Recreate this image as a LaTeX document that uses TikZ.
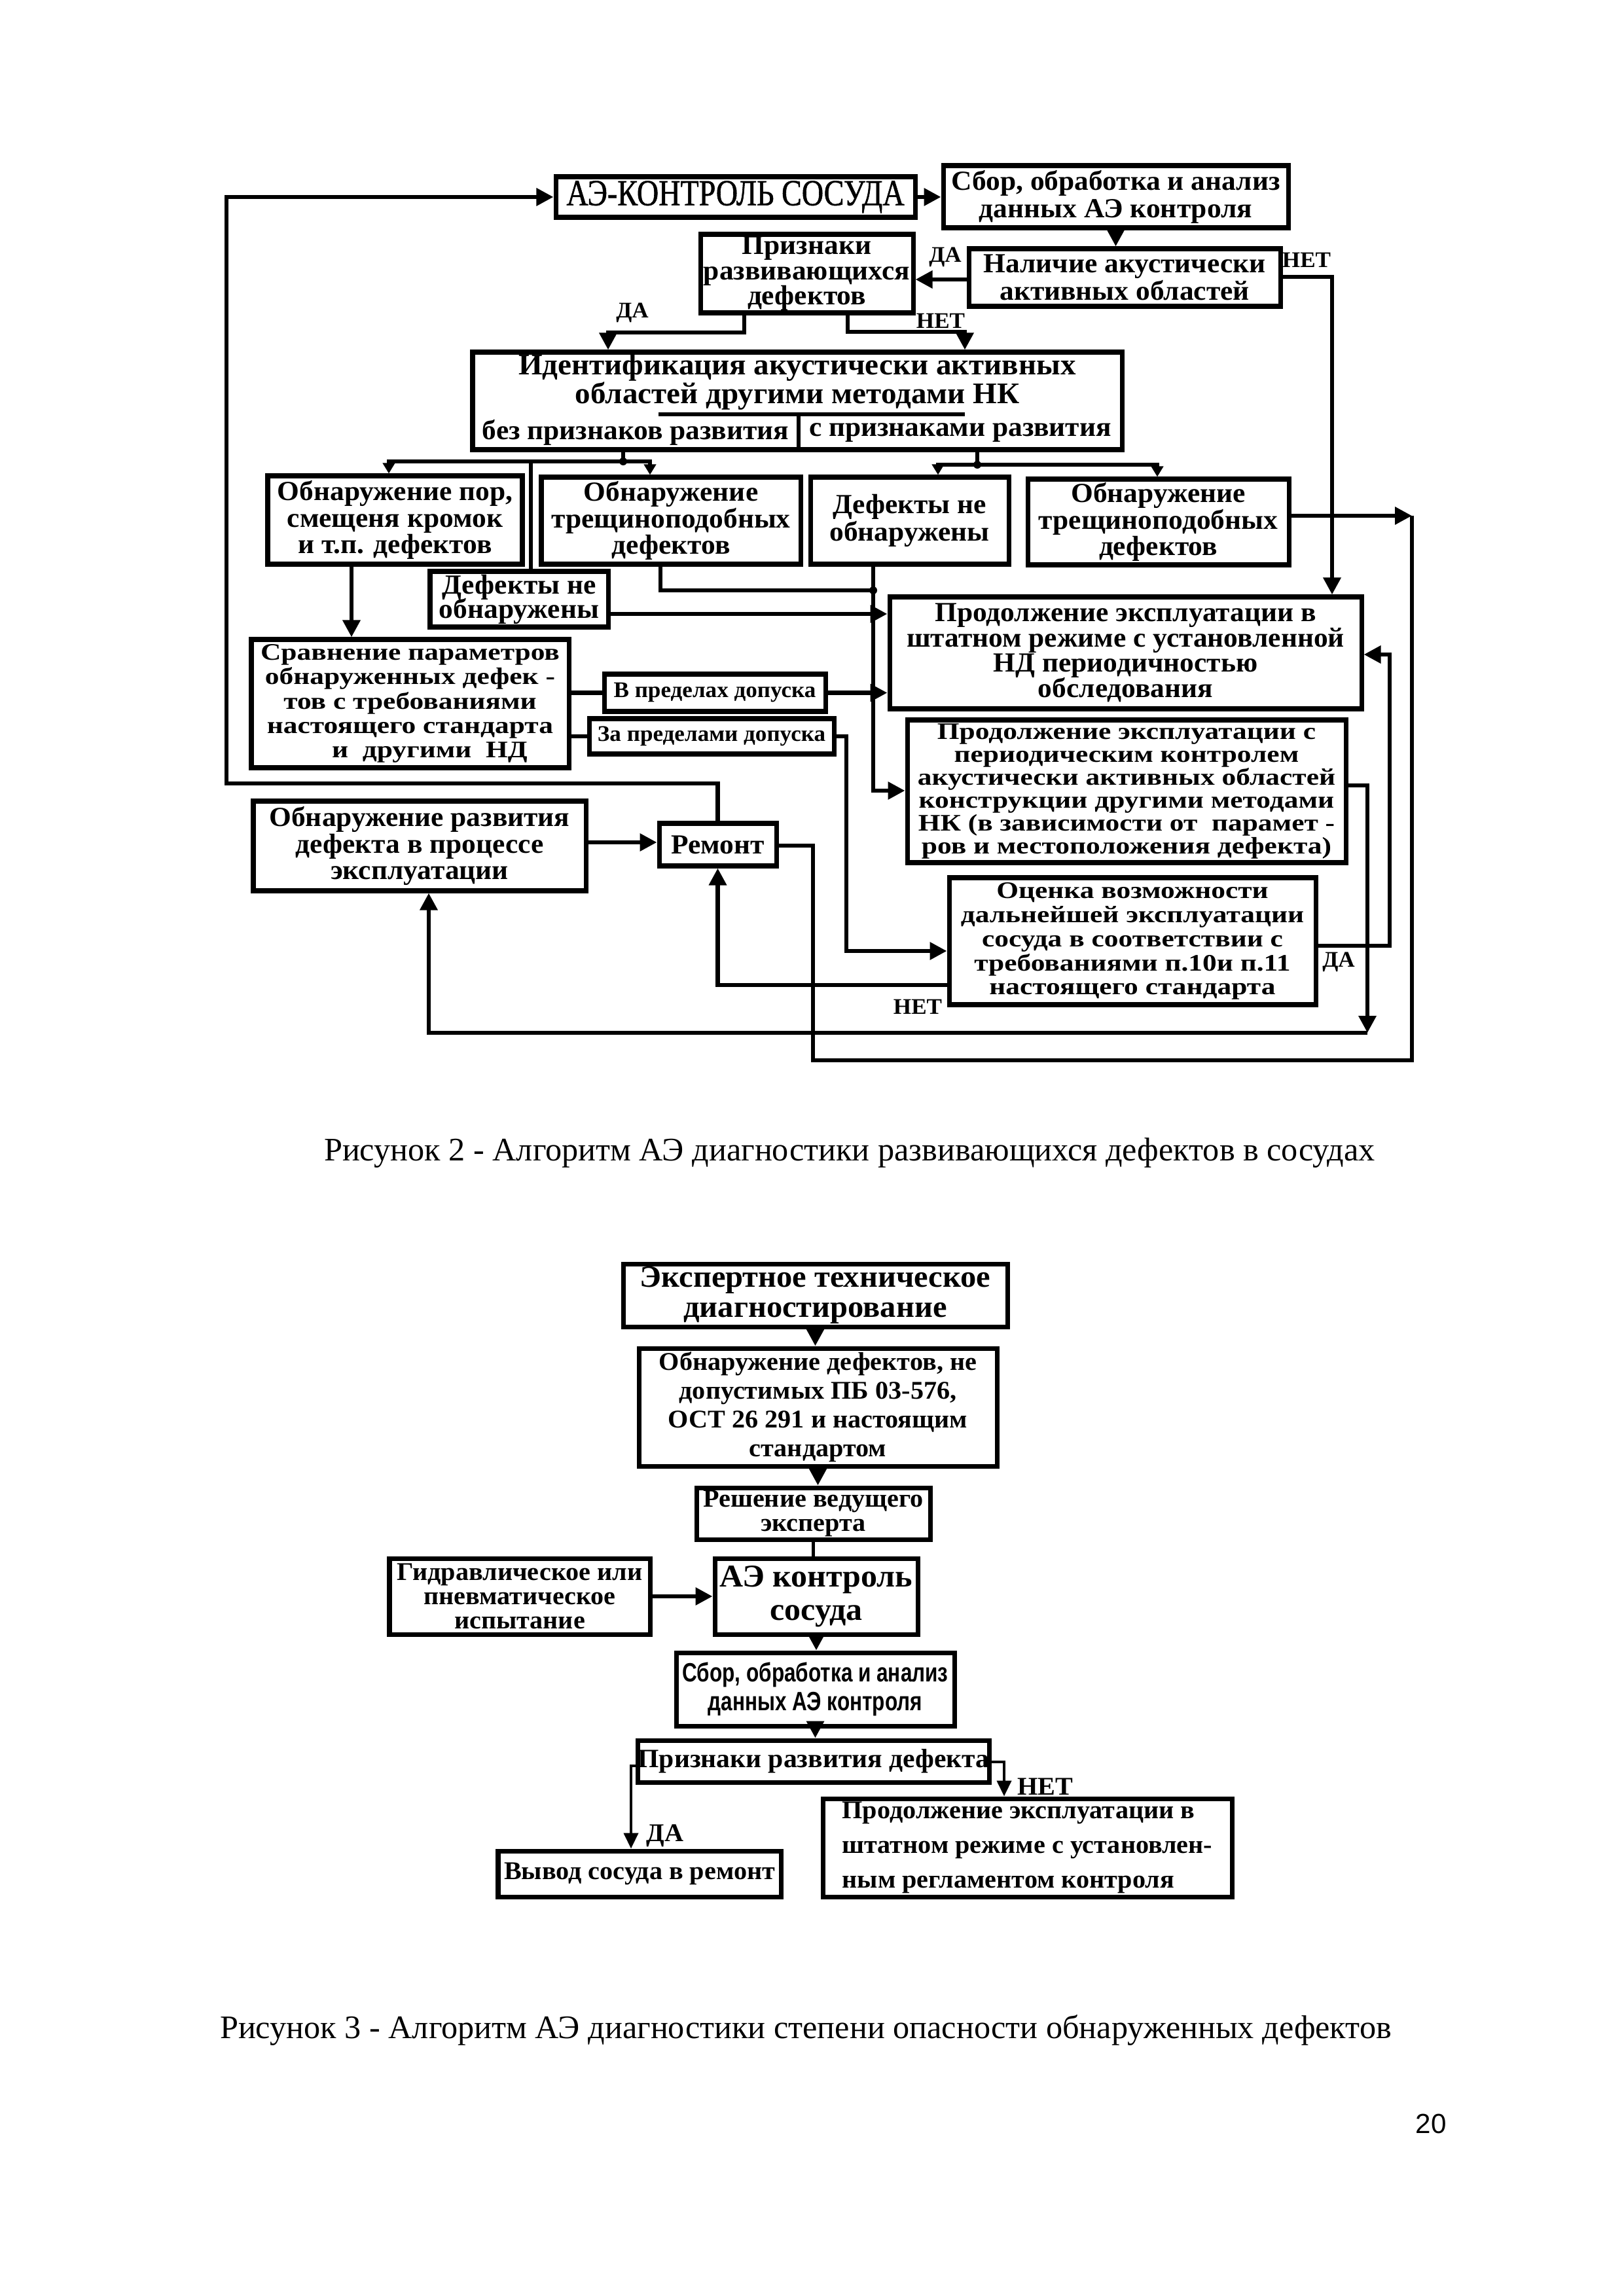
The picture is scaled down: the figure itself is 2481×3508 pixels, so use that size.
\documentclass[tikz,border=0pt]{standalone}
\usepackage{fontspec}
\setmainfont{Liberation Serif}
\newfontfamily\cserif[FakeStretch=1.03]{Liberation Serif}
\newfontfamily\wserif[FakeStretch=1.2]{Liberation Serif}
\newfontfamily\nserif[FakeStretch=0.82, FakeBold=1]{Liberation Serif}
\newfontfamily\csans[FakeStretch=0.78]{Liberation Sans}
\newfontfamily\psans{Liberation Sans}
\usetikzlibrary{arrows.meta}
\newcommand\fsz[2]{\fontsize{#1}{#2}\selectfont\lineskiplimit=-20pt}

\tikzset{
  blk/.style={draw, line width=2pt, inner sep=0pt, align=center},
  sz/.style 2 args={minimum width=#1*0.1mm, minimum height=#2*0.1mm},
  txt/.style 2 args={font=\cserif\bfseries\fsz{#1}{#2}, align=center},
  wtxt/.style 2 args={font=\wserif\bfseries\fsz{#1}{#2}, align=center},
  con/.style={line width=1.8pt},
  arr/.style={line width=1.8pt, -{Triangle[length=2.6mm,width=2.6mm]}},
  sarr/.style={line width=1.8pt, -{Triangle[length=1.6mm,width=1.8mm]}},
  thinarr/.style={line width=1.2pt, -{Triangle[length=2.4mm,width=2.2mm]}},
  lbl/.style={font=\cserif\bfseries\fsz{9.7}{11}, inner sep=0pt},
}

\begin{document}
\begin{tikzpicture}[x=0.1mm, y=-0.1mm]
\useasboundingbox (0,0) rectangle (2481,3508);
%%%%% FIGURE 2 %%%%%
\node[blk, sz={549}{62}, font=\nserif\fsz{16}{18}] (ae) at (1123.5,301) {АЭ-КОНТРОЛЬ СОСУДА};
\node[blk, sz={527}{95}, txt={12}{12}] (sbor) at (1704.5,300.5) {Сбор, обработка и анализ\\ данных АЭ контроля};
\node[blk, sz={476}{88}, txt={12}{12}] (nal) at (1718,424) {Наличие акустически\\активных областей};
\node[blk, sz={325}{120}, txt={12}{11}] (priz) at (1232.5,418) {Признаки\\развивающихся\\дефектов};

\node[blk, sz={992}{149}] (ident) at (1218,612.5) {};
\node[txt={13}{12.5}] (idtop) at (1218,584) {Идентификация акустически активных\\областей другими методами НК};
\node[txt={12}{12}] (idA) at (971,661) {без признаков развития};
\node[txt={12}{12}] (idB) at (1467,661) {с признаками развития};
\draw[con] (1006,633) -- (1474,633);
\draw[con] (1220,633) -- (1220,687);

\node[blk, sz={389}{135}, txt={12}{11.5}] (por) at (603.5,794.5) {Обнаружение пор,\\смещеня кромок\\и т.п. дефектов};
\node[blk, sz={396}{133}, txt={12}{11.5}] (tr1) at (1025,795.5) {Обнаружение\\трещиноподобных\\дефектов};
\node[blk, sz={303}{133}, txt={12}{12}] (nd2) at (1389.5,795.5) {Дефекты не\\обнаружены};
\node[blk, sz={399}{131}, txt={12}{11.5}] (tr2) at (1769.5,797.5) {Обнаружение\\трещиноподобных\\дефектов};
\node[blk, sz={272}{85}, txt={12}{10.5}] (nd1) at (793,915.5) {Дефекты не\\обнаружены};

\node[blk, sz={721}{171}, txt={12}{11}] (prod1) at (1719.5,997.5) {Продолжение эксплуатации в\\штатном режиме с установленной\\НД периодичностью\\обследования};
\node[blk, sz={485}{196}, wtxt={10.3}{10.6}] (srav) at (626.5,1075) {Сравнение параметров\\обнаруженных дефек -\\тов с требованиями\\настоящего стандарта\\\hspace*{6mm}и\ \ другими\ \ НД};
\node[blk, sz={338}{57}, txt={9.7}{11}] (vpred) at (1092,1058.5) {В пределах допуска};
\node[blk, sz={374}{54}, txt={9.7}{11}] (zapred) at (1087,1125) {За пределами допуска};
\node[blk, sz={670}{218}, wtxt={10.3}{10}] (prod2) at (1721,1209) {Продолжение эксплуатации с\\периодическим контролем\\акустически активных областей\\конструкции другими методами\\НК (в зависимости от\ \ парамет -\\ров и местоположения дефекта)};
\node[blk, sz={508}{137}, txt={12}{11.5}] (obnr) at (641,1292.5) {Обнаружение развития\\дефекта в процессе\\эксплуатации};
\node[blk, sz={179}{65}, txt={12}{12}] (rem) at (1096.5,1290.5) {Ремонт};
\node[blk, sz={560}{194}, wtxt={10.3}{10.5}] (ocen) at (1730,1438) {Оценка возможности\\дальнейшей эксплуатации\\сосуда в соответствии с\\требованиями п.10и п.11\\настоящего стандарта};

% loop back to the top
\coordinate (lpA) at (346,1197);
\draw[arr] (rem.north) |- (lpA) |- (ae.west);
\draw[arr] (ae.east) -- (sbor.west |- ae.east);
\draw[arr] (sbor.south) -- (sbor.south |- nal.north);
\draw[arr] (nal.west |- 0,427) -- (priz.east |- 0,427);
\node[lbl] (daA) at (1444,393) {ДА};
\coordinate (netR) at (2035,423);
\draw[arr] (nal.east |- netR) -| (prod1.north -| netR);
\node[lbl] (netA) at (1996,397) {НЕТ};
\draw[arr] (priz.south -| 1137,0) |- (929,508) -- (ident.north -| 929,0);
\node[lbl] (daB) at (966,478) {ДА};
\draw[arr] (priz.south -| 1295,0) |- (1474,507) -- (ident.north -| 1474,0);
\node[lbl] (netB) at (1437,490) {НЕТ};

% branches
\coordinate (brL) at (952,705);
\draw[con] (ident.south -| brL) -- (brL);
\fill (brL) circle[radius=0.6mm];
\draw[sarr] (brL) -| (por.north -| 594,0);
\draw[sarr] (brL) -| (tr1.north -| 993,0);
\draw[con] (brL) -| (nd1.north -| 811,0);
\coordinate (brR) at (1493,710);
\draw[con] (ident.south -| brR) -- (brR);
\fill (brR) circle[radius=0.6mm];
\draw[sarr] (brR) -| (nd2.north -| 1433,0);
\draw[sarr] (brR) -| (tr2.north -| 1768,0);

\draw[arr] (por.south -| 537,0) -- (srav.north -| 537,0);
\coordinate (jn) at (1334,902);
\draw[con] (tr1.south -| 1009,0) |- (jn);
\fill (jn) circle[radius=0.6mm];
\draw[arr] (nd2.south -| jn) |- (prod2.west |- 0,1208);
\draw[arr] (nd1.east |- 0,938) -- (prod1.west |- 0,938);
\draw[con] (srav.east |- vpred.west) -- (vpred.west);
\draw[arr] (vpred.east) -- (prod1.west |- vpred.east);
\draw[con] (srav.east |- zapred.west) -- (zapred.west);
\draw[arr] (zapred.east) -| (1293,1453) -- (ocen.west |- 0,1453);

% outer loop to repair
\coordinate (oR) at (2157,788);
\draw[arr] (tr2.east |- oR) -- (oR);
\draw[con] (oR) |- (1242,1620) |- (rem.east |- 0,1292);
\draw[arr] (obnr.east |- 0,1287) -- (rem.west |- 0,1287);
\draw[arr] (ocen.west |- 0,1505) -| (rem.south);
\node[lbl] (netC) at (1402,1538) {НЕТ};
\draw[arr] (ocen.east |- 0,1445) -| (2123,1000) -- (prod1.east |- 0,1000);
\node[lbl] (daC) at (2045,1470) {ДА};
\coordinate (iB) at (2089,1578);
\draw[arr] (prod2.east |- 0,1200) -| (iB);
\draw[arr] (iB) -| (obnr.south -| 655,0);

\node[font=\fsz{14.3}{17}] (cap2) at (1298,1761) {Рисунок 2 - Алгоритм АЭ диагностики развивающихся дефектов в сосудах};

%%%%% FIGURE 3 %%%%%
\node[blk, sz={587}{96}, txt={13.4}{13}] (exp) at (1245.5,1979) {Экспертное техническое\\ диагностирование};
\node[blk, sz={547}{180}, txt={11.1}{12.5}] (obd) at (1249.5,2150) {Обнаружение дефектов, не\\допустимых ПБ 03-576,\\ОСТ 26 291 и настоящим\\стандартом};
\node[blk, sz={357}{79}, txt={11.1}{10.5}] (resh) at (1242.5,2312.5) {Решение ведущего\\эксперта};
\node[blk, sz={310}{116}, txt={13.8}{14.5}] (aek) at (1247,2439) {АЭ контроль\\сосуда};
\node[blk, sz={398}{116}, txt={11.1}{10.5}] (gidr) at (794,2439) {Гидравлическое или\\пневматическое\\испытание};
\node[blk, sz={425}{112}, font=\csans\bfseries\fsz{11.5}{12.5}] (sbor3) at (1245.5,2581) {Сбор, обработка и анализ\\ данных АЭ контроля};
\node[blk, sz={536}{64}, txt={11.5}{13}] (priz3) at (1243,2691) {Признаки развития дефекта};
\node[blk, sz={432}{70}, txt={11.1}{13}] (vyvod) at (977,2863) {Вывод сосуда в ремонт};
\node[blk, sz={625}{150}, txt={11.1}{15}, align=left] (prodn) at (1569.5,2823) {Продолжение эксплуатации в\\штатном режиме с установлен-\\ным регламентом контроля};

\draw[arr] (exp.south) -- (exp.south |- obd.north);
\draw[arr] (obd.south) -- (obd.south |- resh.north);
\draw[line width=1.2pt] (resh.south) -- (resh.south |- aek.north);
\draw[arr] (gidr.east) -- (aek.west);
\draw[arr] (aek.south) -- (aek.south |- sbor3.north);
\draw[arr] (sbor3.south) -- (sbor3.south |- priz3.north);
\draw[thinarr] (priz3.west |- 0,2698) -| (vyvod.north -| 964,0);
\node[lbl, font=\cserif\bfseries\fsz{11.1}{12}] (daD) at (1016,2805) {ДА};
\draw[thinarr] (priz3.east |- 0,2692) -| (prodn.north -| 1534,0);
\node[lbl, font=\cserif\bfseries\fsz{11.1}{12}] (netD) at (1597,2730) {НЕТ};

\node[font=\fsz{14.3}{17}] (cap3) at (1231,3102) {Рисунок 3 - Алгоритм АЭ диагностики степени опасности обнаруженных дефектов};
\node[font=\psans\fsz{12}{14}] (pg) at (2186,3245) {20};
\end{tikzpicture}
\end{document}
